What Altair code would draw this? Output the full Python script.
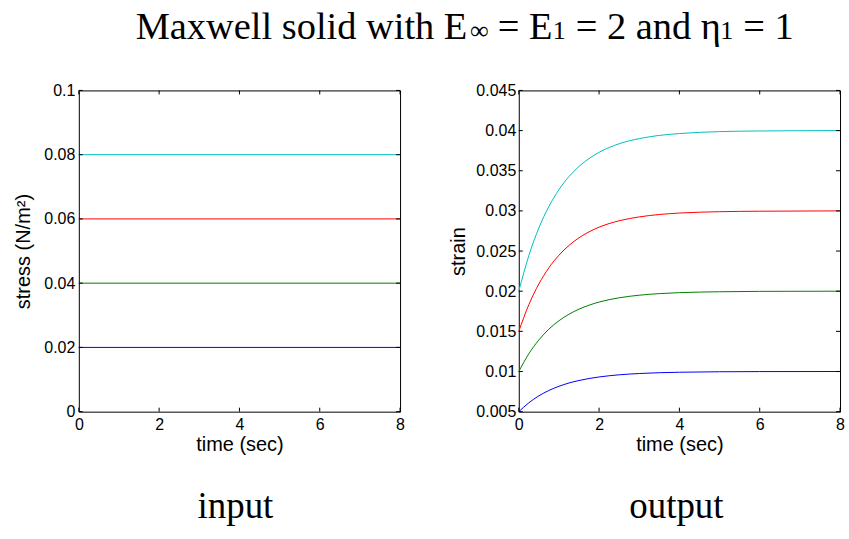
import altair as alt
import pandas as pd

# ---- data -------------------------------------------------------------
time_s = [0, 0.25, 0.5, 0.75, 1, 1.25, 1.5, 1.75, 2, 2.5, 3, 3.5, 4, 5, 6, 8]

stress_levels = [0.02, 0.04, 0.06, 0.08]
series_names = ["0.02", "0.04", "0.06", "0.08"]
series_colors = ["#0000ff", "#008000", "#ff0000", "#00bfbf"]

strain_002 = [0.00500, 0.00610, 0.00697, 0.00764, 0.00816, 0.00857, 0.00888, 0.00913,
              0.00932, 0.00959, 0.00975, 0.00985, 0.00991, 0.00997, 0.00999, 0.01000]
strain_004 = [0.01000, 0.01221, 0.01393, 0.01528, 0.01632, 0.01713, 0.01777, 0.01826,
              0.01865, 0.01918, 0.01950, 0.01970, 0.01982, 0.01993, 0.01998, 0.02000]
strain_006 = [0.01500, 0.01832, 0.02090, 0.02292, 0.02448, 0.02570, 0.02665, 0.02739,
              0.02797, 0.02877, 0.02925, 0.02955, 0.02973, 0.02990, 0.02996, 0.03000]
strain_008 = [0.02000, 0.02442, 0.02787, 0.03055, 0.03264, 0.03427, 0.03554, 0.03652,
              0.03729, 0.03836, 0.03900, 0.03940, 0.03963, 0.03987, 0.03995, 0.04000]

time_ticks = [0, 2, 4, 6, 8]
stress_ticks = [0, 0.02, 0.04, 0.06, 0.08, 0.1]
strain_ticks = [0.005, 0.01, 0.015, 0.02, 0.025, 0.03, 0.035, 0.04, 0.045]

# ---- tables -------------------------------------------------------------
stress_rows = []
for name, level in zip(series_names, stress_levels):
    for t in (time_s[0], time_s[-1]):
        stress_rows.append({"time": t, "stress": level, "series": name})
stress_df = pd.DataFrame(stress_rows)

strain_rows = []
for name, values in zip(series_names, [strain_002, strain_004, strain_006, strain_008]):
    for t, v in zip(time_s, values):
        strain_rows.append({"time": t, "strain": v, "series": name})
strain_df = pd.DataFrame(strain_rows)

# ---- layout constants ---------------------------------------------------
PAGE_W, PAGE_H = 849, 539
W, H = 322, 322          # each plot frame
LEFT, TOP = 78, 89       # page position of the first frame
GAP = 119                # distance between the two frames
TICK = 4
SANS = "Liberation Sans"
SERIF = "Liberation Serif"

color = alt.Color("series:N", legend=None,
                  scale=alt.Scale(domain=series_names, range=series_colors))
x_scale = alt.Scale(domain=[0, 8], nice=False, zero=False)
anchor = pd.DataFrame({"k": [0]})


def x_axis():
    return alt.Axis(values=time_ticks, title="time (sec)", labelFlush=False,
                    labelOverlap=False, labelPadding=5, titlePadding=2)


def inner_ticks(xvals, yvals, y_scale):
    """Inward-pointing tick marks on all four sides of the frame."""
    xt = pd.DataFrame({"v": xvals})
    yt = pd.DataFrame({"v": yvals})
    bottom = alt.Chart(xt).mark_rule(color="black").encode(
        x=alt.X("v:Q", scale=x_scale), y=alt.value(H), y2=alt.value(H - TICK))
    top = alt.Chart(xt).mark_rule(color="black").encode(
        x=alt.X("v:Q", scale=x_scale), y=alt.value(0), y2=alt.value(TICK))
    left = alt.Chart(yt).mark_rule(color="black").encode(
        y=alt.Y("v:Q", scale=y_scale), x=alt.value(0), x2=alt.value(TICK))
    right = alt.Chart(yt).mark_rule(color="black").encode(
        y=alt.Y("v:Q", scale=y_scale), x=alt.value(W - TICK), x2=alt.value(W))
    return [bottom, top, left, right]


def caption(text, cx):
    """Large serif caption under a panel, centred on cx."""
    return alt.Chart(anchor).mark_text(
        text=text, font=SERIF, fontSize=37, align="center", baseline="alphabetic",
        color="black").encode(x=alt.value(cx), y=alt.value(518 - TOP))


# invisible page-sized backdrop so the drawing keeps the full canvas extent
backdrop = alt.Chart(anchor).mark_rect(fill="white", opacity=0).encode(
    x=alt.value(-LEFT), x2=alt.value(PAGE_W - LEFT),
    y=alt.value(-TOP), y2=alt.value(PAGE_H - TOP))

# ---- heading with smaller subscripts --------------------------------------
BIG, SMALL = 38.5, 26
heading_parts = [
    ("Maxwell solid with E", 135, BIG), ("∞", 470, SMALL), ("= E", 498, BIG),
    ("1", 553, SMALL), ("= 2 and η", 576, BIG), ("1", 721, SMALL), ("= 1", 744, BIG),
]
heading_layers = [
    alt.Chart(anchor).mark_text(text=txt, font=SERIF, fontSize=size, align="left",
                                baseline="alphabetic", color="black").encode(
        x=alt.value(px - LEFT), y=alt.value(37 - TOP))
    for txt, px, size in heading_parts
]

# ---- input panel: constant stress ----------------------------------------
stress_scale = alt.Scale(domain=[0, 0.1], nice=False, zero=False)
stress_lines = alt.Chart(stress_df).mark_line(strokeWidth=1).encode(
    x=alt.X("time:Q", scale=x_scale, axis=x_axis()),
    y=alt.Y("stress:Q", scale=stress_scale,
            axis=alt.Axis(values=stress_ticks, title="stress (N/m²)",
                          labelExpr="format(datum.value, '~g')",
                          labelFlush=False, labelOverlap=False, labelPadding=4,
                          minExtent=36, maxExtent=36, titlePadding=9)),
    color=color, detail="series:N")

input_panel = alt.layer(
    backdrop,
    stress_lines,
    *inner_ticks(time_ticks, stress_ticks, stress_scale),
    caption("input", 235 - LEFT),
    *heading_layers,
).properties(width=W, height=H)

# ---- output panel: creep strain ------------------------------------------
strain_scale = alt.Scale(domain=[0.005, 0.045], nice=False, zero=False)
strain_lines = alt.Chart(strain_df).mark_line(strokeWidth=1, interpolate="monotone").encode(
    x=alt.X("time:Q", scale=x_scale, axis=x_axis()),
    y=alt.Y("strain:Q", scale=strain_scale,
            axis=alt.Axis(values=strain_ticks, title="strain",
                          labelExpr="format(datum.value, '~g')",
                          labelFlush=False, labelOverlap=False, labelPadding=3,
                          minExtent=44, maxExtent=44, titlePadding=6)),
    color=color, detail="series:N")

output_panel = alt.layer(
    strain_lines,
    *inner_ticks(time_ticks, strain_ticks, strain_scale),
    caption("output", 677 - (LEFT + W + GAP)),
).properties(width=W, height=H)

chart = alt.hconcat(input_panel, output_panel, spacing=GAP, bounds="flush").properties(
    padding=0,
).configure_view(
    stroke="black", strokeWidth=1
).configure_axis(
    labelFont=SANS, labelFontSize=16, labelColor="black",
    titleFont=SANS, titleFontSize=20, titleFontWeight="normal", titleColor="black",
    domain=False, ticks=False, grid=False
)

chart.save("out.html", embed_options={"renderer": "svg", "actions": False})
